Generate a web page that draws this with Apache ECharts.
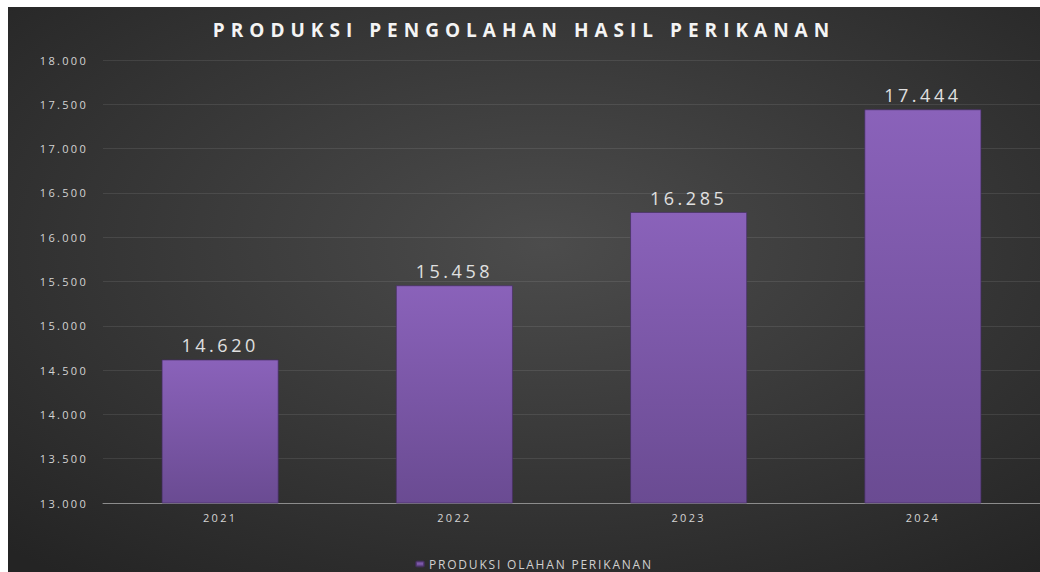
<!DOCTYPE html>
<html>
<head>
<meta charset="utf-8">
<title>Produksi Pengolahan Hasil Perikanan</title>
<script src="https://cdn.jsdelivr.net/npm/echarts@6/dist/echarts.min.js"></script>
<style>
  html, body { margin: 0; padding: 0; background: #fff; }
  #chart { position: absolute; left: 8px; top: 7px; width: 1032px; height: 565px; }
  /* wide, spaced lettering like the original */
  #chart text { letter-spacing: 2.3px; }
  #chart text[style*="bold"] { letter-spacing: 6px; }
  #chart text[style*="18px"] { letter-spacing: 3.5px; }
  #chart text[style*="12px"] { letter-spacing: 1.8px; }
</style>
</head>
<body>
<div id="chart"></div>
<script>
var years = ["2021", "2022", "2023", "2024"];
var produksi = [14620, 15458, 16285, 17444];
var seriesName = "PRODUKSI OLAHAN PERIKANAN";
var titleText = "PRODUKSI PENGOLAHAN HASIL PERIKANAN";

// angka format Indonesia: titik sebagai pemisah ribuan
function fmt(v) {
  return String(v).replace(/\B(?=(\d{3})+(?!\d))/g, ".");
}

var chart = echarts.init(document.getElementById("chart"), null, { renderer: "svg" });

var option = {
  backgroundColor: {
    type: "radial",
    x: 0.52, y: 0.42, r: 0.75,
    colorStops: [
      { offset: 0, color: "#4c4c4c" },
      { offset: 1, color: "#242424" }
    ]
  },
  title: {
    text: titleText,
    left: "center",
    top: 8,
    textStyle: {
      color: "#f4f4f4",
      fontFamily: "Open Sans",
      fontWeight: "bold",
      fontSize: 19
    }
  },
  legend: {
    data: [seriesName],
    left: 402,
    top: 546,
    itemWidth: 8,
    itemHeight: 5,
    itemGap: 6,
    textStyle: { color: "#d0d0d0", fontFamily: "Open Sans", fontSize: 12 }
  },
  grid: { left: 95, right: 0, top: 53, bottom: 69 },
  xAxis: {
    type: "category",
    data: years,
    axisLine: { lineStyle: { color: "#8c8c8c", width: 1 } },
    axisTick: { show: false },
    axisLabel: { color: "#d4d4d4", fontFamily: "Open Sans", fontSize: 11, margin: 9 }
  },
  yAxis: {
    type: "value",
    min: 13000,
    max: 18000,
    interval: 500,
    axisLine: { show: false },
    axisTick: { show: false },
    splitLine: { lineStyle: { color: "rgba(255,255,255,0.09)" } },
    axisLabel: {
      color: "#d4d4d4",
      fontFamily: "Open Sans",
      fontSize: 11,
      margin: 15,
      formatter: function (v) { return fmt(v); }
    }
  },
  series: [
    {
      name: seriesName,
      type: "bar",
      data: produksi,
      barWidth: "50%",
      itemStyle: {
        color: {
          type: "linear", x: 0, y: 0, x2: 0, y2: 1,
          colorStops: [
            { offset: 0, color: "#8a62ba" },
            { offset: 1, color: "#6a4b92" }
          ]
        },
        borderColor: "rgba(70,45,100,0.7)",
        borderWidth: 1
      },
      label: {
        show: true,
        position: "top",
        distance: 5,
        color: "#e0e0e0",
        fontFamily: "Open Sans",
        fontSize: 18,
        formatter: function (p) { return fmt(p.value); }
      }
    }
  ]
};

chart.setOption(option);
</script>
</body>
</html>
